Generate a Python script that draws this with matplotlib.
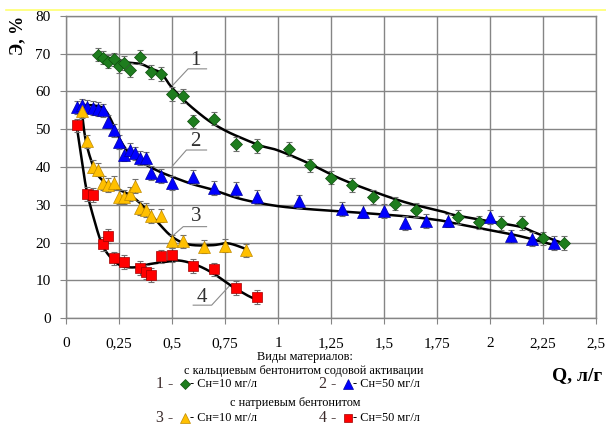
import numpy as np
import matplotlib.pyplot as plt
from matplotlib.lines import Line2D

plt.rcParams.update({
    'font.family': 'Liberation Serif',
    'font.size': 11,
})

# measured points: Q, l/g  vs  E, %
q1 = [0.15, 0.175, 0.2, 0.225, 0.25, 0.275, 0.3, 0.35, 0.4, 0.45, 0.5, 0.55, 0.6, 0.7, 0.8,
      0.9, 1.05, 1.15, 1.25, 1.35, 1.45, 1.55, 1.65, 1.85, 1.95, 2.05, 2.15, 2.25, 2.35]
e1 = [69.8, 69.0, 67.9, 68.5, 66.8, 67.5, 65.7, 69.2, 65.2, 64.6, 59.3, 58.8, 52.1, 52.8, 46.1,
      45.6, 44.7, 40.4, 37.2, 35.2, 32.1, 30.3, 28.6, 26.8, 25.3, 25.2, 25.2, 21.1, 19.8]

q2 = [0.05, 0.075, 0.1, 0.125, 0.15, 0.175, 0.2, 0.225, 0.25, 0.275, 0.3, 0.325, 0.35, 0.375,
      0.4, 0.45, 0.5, 0.6, 0.7, 0.8, 0.9, 1.1, 1.3, 1.4, 1.5, 1.6, 1.7, 1.8, 2.0, 2.1, 2.2, 2.3]
e2 = [55.8, 56.3, 56.0, 55.6, 55.4, 55.0, 52.0, 49.7, 46.7, 43.3, 44.6, 43.6, 42.4, 42.3,
      38.4, 37.6, 35.8, 37.4, 34.4, 34.2, 32.1, 30.9, 28.8, 28.2, 28.4, 25.2, 25.7, 25.8, 26.7,
      21.6, 20.9, 19.9]

q3 = [0.075, 0.1, 0.125, 0.15, 0.175, 0.2, 0.225, 0.25, 0.275, 0.3, 0.325, 0.35, 0.375, 0.4,
      0.45, 0.5, 0.55, 0.65, 0.75, 0.85]
e3 = [54.8, 46.8, 40.1, 39.3, 35.8, 35.3, 35.8, 32.0, 32.0, 32.8, 35.0, 29.1, 28.6, 27.0,
      27.1, 20.3, 20.3, 18.9, 19.2, 17.9]

q4 = [0.05, 0.1, 0.125, 0.175, 0.2, 0.225, 0.275, 0.35, 0.375, 0.4, 0.45, 0.5, 0.6, 0.7, 0.8, 0.9]
e4 = [51.0, 32.9, 32.6, 19.6, 21.8, 15.8, 14.9, 13.2, 12.2, 11.4, 16.3, 16.7, 13.7, 12.9, 8.0, 5.5]

err = 1.8

# approximating curves (nodes of the smoothed lines)
c1_q = [0.15, 0.25, 0.35, 0.4, 0.45, 0.49, 0.54, 0.6, 0.68, 0.76, 0.84, 0.92, 1.0, 1.14, 1.29,
        1.45, 1.61, 1.77, 1.83, 1.98, 2.14, 2.2, 2.28, 2.34]
c1_e = [70.0, 68.0, 67.3, 66.1, 64.8, 61.7, 58.6, 55.5, 52.0, 49.4, 47.4, 45.6, 44.4, 41.1, 37.0,
        33.5, 30.5, 28.3, 27.3, 25.8, 24.2, 22.9, 21.1, 19.9]

c2_q = [0.05, 0.09, 0.16, 0.19, 0.22, 0.255, 0.3, 0.365, 0.44, 0.52, 0.6, 0.68, 0.82, 0.98,
        1.13, 1.29, 1.45, 1.61, 1.76, 1.83, 1.98, 2.14, 2.27, 2.3]
c2_e = [55.7, 56.4, 56.0, 54.7, 51.6, 47.2, 43.6, 41.0, 38.8, 37.0, 35.4, 34.2, 31.6, 29.8,
        28.9, 28.3, 27.6, 26.9, 25.9, 25.1, 23.5, 21.7, 19.8, 19.4]

c3_q = [0.075, 0.09, 0.113, 0.145, 0.19, 0.255, 0.3, 0.35, 0.395, 0.445, 0.49, 0.54, 0.6,
        0.695, 0.76, 0.82, 0.85]
c3_e = [54.6, 48.0, 42.7, 38.3, 35.7, 33.9, 32.6, 30.4, 27.7, 24.6, 22.0, 20.2, 19.3,
        19.3, 19.8, 18.9, 18.2]

c4_q = [0.05, 0.074, 0.097, 0.129, 0.168, 0.208, 0.255, 0.318, 0.396, 0.475, 0.538, 0.617,
        0.695, 0.774, 0.852, 0.885]
c4_e = [51.0, 41.9, 33.9, 26.8, 19.8, 16.2, 14.0, 13.4, 14.3, 14.9, 15.2, 14.0,
        11.8, 8.7, 6.1, 5.2]


def smooth(xs, ys, n=24):
    # Catmull-Rom spline through the nodes (like a smoothed line in a spreadsheet)
    p = np.column_stack([xs, ys]).astype(float)
    p = np.vstack([2 * p[0] - p[1], p, 2 * p[-1] - p[-2]])
    t = np.linspace(0, 1, n, endpoint=False)[:, None]
    out = []
    for i in range(1, len(p) - 2):
        p0, p1, p2, p3 = p[i - 1], p[i], p[i + 1], p[i + 2]
        seg = 0.5 * ((2 * p1) + (-p0 + p2) * t + (2 * p0 - 5 * p1 + 4 * p2 - p3) * t ** 2
                     + (-p0 + 3 * p1 - 3 * p2 + p3) * t ** 3)
        out.append(seg)
    out.append(p[-2][None, :])
    out = np.vstack(out)
    return out[:, 0], out[:, 1]


fig = plt.figure(figsize=(6.06, 4.26), dpi=100)
ax = fig.add_axes([66 / 606, 1 - 318 / 426, 530 / 606, 302 / 426])

grid_c = '#858585'
ax.set_xlim(0, 2.5)
ax.set_ylim(0, 80)
ax.set_xticks(np.arange(0, 2.51, 0.25))
ax.set_xticklabels(['0', '0,25', '0,5', '0,75', '1', '1,25', '1,5', '1,75', '2', '2,25', '2,5'])
ax.set_yticks(np.arange(0, 81, 10))
ax.grid(True, color=grid_c, linewidth=1.0)
ax.set_axisbelow(True)
for s in ax.spines.values():
    s.set_color(grid_c)
    s.set_linewidth(1.0)
ax.tick_params(axis='x', length=4, color=grid_c, pad=10, labelsize=11)
ax.tick_params(axis='y', length=4, color=grid_c, pad=7, labelsize=11)

for cq, ce in [(c1_q, c1_e), (c2_q, c2_e), (c3_q, c3_e), (c4_q, c4_e)]:
    sx, sy = smooth(cq, ce)
    ax.plot(sx, sy, color='black', linewidth=1.8, zorder=3)

series = [
    (q1, e1, 'D', '#1E7D1E', '#0F4F0F', 6.5),
    (q2, e2, '^', '#0000FF', '#0000A0', 9),
    (q3, e3, '^', '#FFC000', '#C08A00', 9),
    (q4, e4, 's', '#FF0000', '#A00000', 7),
]
for q, e, m, fc, ec, ms in series:
    ax.errorbar(q, e, yerr=err, fmt='none', ecolor='#707070', elinewidth=0.8,
                capsize=2, capthick=0.8, zorder=4)
    ax.plot(q, e, linestyle='none', marker=m, markersize=ms, markerfacecolor=fc,
            markeredgecolor=ec, markeredgewidth=0.5, zorder=5)

# curve numbers with leader lines
lead_c = '#8a8a8a'
labels = [
    ('1', 0.61, 68.3, [0.501, 0.576, 0.663], [61.5, 66.0, 66.0]),
    ('2', 0.61, 46.7, [0.501, 0.568, 0.663], [40.2, 44.5, 44.5]),
    ('3', 0.616, 26.8, [0.498, 0.553, 0.663], [21.5, 24.2, 24.2]),
    ('4', 0.643, 5.4, [0.600, 0.687, 0.774], [3.4, 3.4, 8.7]),
]
for txt, tx, ty, lx, ly in labels:
    ax.plot(lx, ly, color=lead_c, linewidth=0.8, zorder=2)
    ax.text(tx, ty, txt, fontsize=15, color='#303030', ha='center', va='center', zorder=6)

# axis titles
fig.text(18 / 606, 1 - 35 / 426, 'Э, %', rotation=90, fontsize=13, fontweight='bold',
         ha='center', va='center')
fig.text(577 / 606, 1 - 376 / 426, 'Q, л/г', fontsize=14, fontweight='bold',
         ha='center', va='center')

# thin yellow line along the top
fig.add_artist(Line2D([6 / 606, 1.0], [1 - 10 / 426, 1 - 10 / 426], color='#FFFF70',
                      linewidth=1.2))

# legend block
lf = 8.8
fig.text(305 / 606, 1 - 357 / 426, 'Виды материалов:', fontsize=lf, ha='center', va='center')
fig.text(304 / 606, 1 - 371 / 426, 'с кальциевым бентонитом содовой активации', fontsize=lf,
         ha='center', va='center')
fig.text(295 / 606, 1 - 403 / 426, 'с натриевым бентонитом', fontsize=lf,
         ha='center', va='center')

legend_rows = [
    ('1 -', 156, 384, 'D', '#1E7D1E', '#0F4F0F', 5, '- Сн=10 мг/л'),
    ('2 -', 319, 384, '^', '#0000FF', '#0000A0', 7, '- Сн=50 мг/л'),
    ('3 -', 156, 418, '^', '#FFC000', '#C08A00', 7, '- Сн=10 мг/л'),
    ('4 -', 319, 418, 's', '#FF0000', '#A00000', 6, '- Сн=50 мг/л'),
]
for num, px, py, m, fc, ec, ms, txt in legend_rows:
    yy = 1 - py / 426
    fig.text(px / 606, yy, num, fontsize=11.5, color='#3a2a2a', ha='left', va='center')
    fig.add_artist(Line2D([(px + 29) / 606], [yy], marker=m, markersize=ms, markerfacecolor=fc,
                          markeredgecolor=ec, markeredgewidth=0.5, linestyle='none'))
    fig.text((px + 34) / 606, yy, txt, fontsize=lf, ha='left', va='center')

fig.savefig('out.png', dpi=100)
